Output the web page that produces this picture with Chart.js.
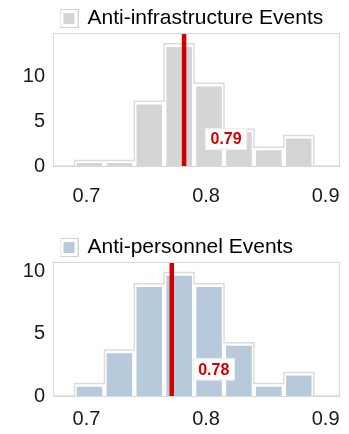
<!DOCTYPE html>
<html>
<head>
<meta charset="utf-8">
<script src="https://cdn.jsdelivr.net/npm/chart.js@4.4.1/dist/chart.umd.min.js"></script>
<style>
  html, body { margin: 0; padding: 0; background: #fff; }
  #wrap { position: relative; width: 349px; height: 434px; overflow: hidden; }
  canvas { position: absolute; left: 0; }
</style>
</head>
<body>
<div id="wrap">
  <canvas id="infraChart" width="349" height="217" style="top:0px"></canvas>
  <canvas id="persChart" width="349" height="205" style="top:229px"></canvas>
</div>
<script>
// histogram bins (centres), shared by both panels
const binCenters = [0.7025, 0.7275, 0.7525, 0.7775, 0.8025, 0.8275, 0.8525, 0.8775];
const binWidth = 0.025;
const xTicks = [0.7, 0.8, 0.9];
const yTicks = [0, 5, 10];

// bar heights
const infraValues = [0.62, 0.62, 7.2, 13.6, 9.2, 4.1, 2.1, 3.4];
const persValues = [1.0, 3.7, 9.05, 9.95, 9.05, 4.3, 1.0, 1.9];

// red marker lines and their labels
const infraMark = 0.7816;
const infraMarkLabel = "0.79";
const persMark = 0.7713;
const persMarkLabel = "0.78";

const FONT = "'Liberation Sans', Arial, sans-serif";

// legend swatch: grey outline, white gap, filled square
function swatch(fill) {
  let cv = document.createElement("canvas");
  cv.width = 19;
  cv.height = 19;
  let c = cv.getContext("2d");
  c.fillStyle = "#fff";
  c.fillRect(0, 0, 19, 19);
  c.strokeStyle = "#d4d4d4";
  c.lineWidth = 1;
  c.strokeRect(0.5, 0.5, 18, 18);
  c.fillStyle = fill;
  c.fillRect(4, 4, 11, 11);
  return cv;
}

// light frame round the plot area
let framePlugin = {
  id: "frame",
  afterDraw(chart) {
    let a = chart.chartArea;
    let c = chart.ctx;
    c.save();
    c.strokeStyle = "#d9d9d9";
    c.lineWidth = 1;
    c.strokeRect(a.left + 0.5, a.top + 0.5, a.right - a.left - 1, a.bottom - a.top);
    c.restore();
  },
};

// vertical red line + value tag
let markPlugin = {
  id: "mark",
  afterDatasetsDraw(chart, args, opts) {
    let a = chart.chartArea;
    let c = chart.ctx;
    let x = chart.scales.x.getPixelForValue(opts.value);
    c.save();
    c.strokeStyle = "#d00000";
    c.lineWidth = 4.5;
    c.beginPath();
    c.moveTo(x, a.top);
    c.lineTo(x, a.bottom);
    c.stroke();

    let bx = x + 21;
    let by = chart.scales.y.getPixelForValue(opts.labelY);
    c.fillStyle = "rgba(255,255,255,0.95)";
    c.strokeStyle = "#eeeeee";
    c.lineWidth = 1;
    c.fillRect(bx, by - 11, 42, 22);
    c.strokeRect(bx + 0.5, by - 10.5, 41, 21);
    c.fillStyle = "#d40000";
    c.font = "bold 16px " + FONT;
    c.textAlign = "center";
    c.textBaseline = "middle";
    c.fillText(opts.text, bx + 21, by + 1);
    c.restore();
  },
};

function outlinePoints(values, xMin, xMax) {
  let pts = [{ x: xMin, y: 0 }, { x: binCenters[0] - binWidth / 2, y: 0 }];
  values.forEach((v, i) => pts.push({ x: binCenters[i] + binWidth / 2, y: v }));
  pts.push({ x: binCenters[binCenters.length - 1] + binWidth / 2, y: 0 });
  pts.push({ x: xMax, y: 0 });
  return pts;
}

function makeChart(id, cfg) {
  let ctx = document.getElementById(id).getContext("2d");
  let xMin = 0.672;
  let xMax = 0.912;
  let icon = swatch(cfg.fill);
  return new Chart(ctx, {
    type: "bar",
    data: {
      datasets: [
        {
          type: "bar",
          label: cfg.label,
          data: cfg.values.map((v, i) => ({ x: binCenters[i], y: v })),
          backgroundColor: cfg.fill,
          borderColor: "#ffffff",
          borderWidth: { top: 3.5, left: 2.5, right: 2.5, bottom: 0 },
          borderSkipped: "start",
          barPercentage: 1,
          categoryPercentage: 1,
          order: 2,
        },
        {
          type: "line",
          label: "outline",
          data: outlinePoints(cfg.values, xMin, xMax),
          borderColor: "#dcdcdc",
          borderWidth: 1.5,
          stepped: "after",
          pointRadius: 0,
          fill: false,
          order: 1,
        },
      ],
    },
    options: {
      responsive: false,
      animation: false,
      layout: { padding: { left: 0, right: 9, top: 0, bottom: 0 } },
      scales: {
        x: {
          type: "linear",
          min: xMin,
          max: xMax,
          offset: false,
          grid: { display: false, drawTicks: false, tickLength: 0 },
          border: { display: false },
          afterBuildTicks: (s) => { s.ticks = xTicks.map((v) => ({ value: v })); },
          afterFit: (s) => {
            s.height = cfg.xAxisHeight;
            s.paddingLeft = 0;
            s.paddingRight = 0;
          },
          ticks: {
            maxRotation: 0,
            autoSkip: false,
            padding: cfg.xPad,
            color: "#1a1a1a",
            font: { size: 20, family: FONT },
            callback: (v) => String(v),
          },
        },
        y: {
          min: 0,
          max: cfg.yMax,
          grid: { display: false, drawTicks: false, tickLength: 0 },
          border: { display: false },
          afterBuildTicks: (s) => { s.ticks = yTicks.map((v) => ({ value: v })); },
          afterFit: (s) => {
            s.width = 53;
            s.paddingTop = 0;
            s.paddingBottom = 0;
          },
          ticks: {
            padding: 8,
            color: "#1a1a1a",
            font: { size: 20, family: FONT },
          },
        },
      },
      plugins: {
        tooltip: { enabled: false },
        legend: {
          position: "top",
          align: "start",
          fullSize: false,
          maxHeight: 33,
          labels: {
            usePointStyle: true,
            boxWidth: 19,
            boxHeight: 19,
            pointStyleWidth: 16,
            padding: 8,
            color: "#1a1a1a",
            font: { size: 21, family: FONT },
            generateLabels: () => [
              {
                text: cfg.label,
                fillStyle: cfg.fill,
                strokeStyle: "#d6d6d6",
                lineWidth: 1,
                pointStyle: icon,
                hidden: false,
                datasetIndex: 0,
              },
            ],
          },
        },
        mark: { value: cfg.mark, text: cfg.markText, labelY: cfg.labelY },
      },
    },
    plugins: [framePlugin, markPlugin],
  });
}

let infraChart = makeChart("infraChart", {
  label: "Anti-infrastructure Events",
  values: infraValues,
  fill: "#d5d5d5",
  yMax: 14.8,
  xAxisHeight: 51,
  xPad: 18,
  mark: infraMark,
  markText: infraMarkLabel,
  labelY: 3.0,
});

let persChart = makeChart("persChart", {
  label: "Anti-personnel Events",
  values: persValues,
  fill: "#b7cadb",
  yMax: 10.8,
  xAxisHeight: 38,
  xPad: 11,
  mark: persMark,
  markText: persMarkLabel,
  labelY: 2.15,
});
</script>
</body>
</html>
